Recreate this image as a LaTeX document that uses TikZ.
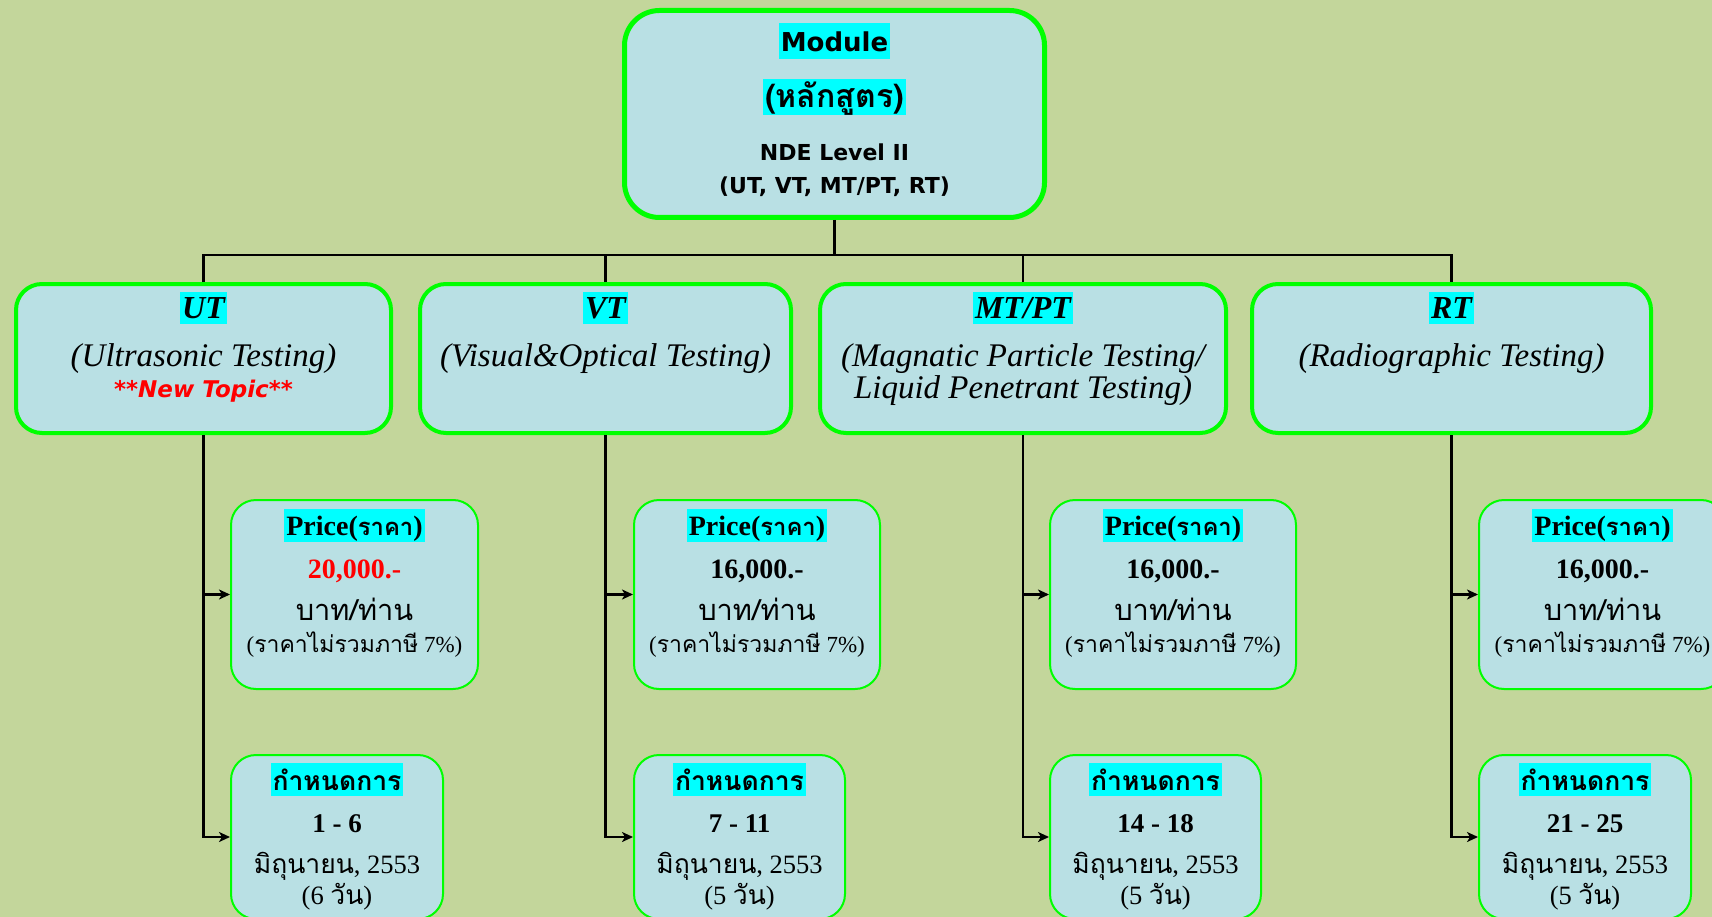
\documentclass[tikz,border=0pt]{standalone}
\usepackage{fontspec}
\setmainfont{Liberation Serif}
\newfontfamily\thai[Script=Thai,Scale=0.85]{Loma}
\newfontfamily\thair[Script=Thai,Scale=1.0]{Loma}
\newfontfamily\thaitop[Script=Thai]{Loma}
\newfontfamily\tah{DejaVu Sans}
\usetikzlibrary{arrows.meta}
\definecolor{bg}{HTML}{C3D69B}
\definecolor{boxfill}{HTML}{B9E0E4}
\definecolor{hl}{HTML}{00FFFF}
\definecolor{grn}{HTML}{00FF00}
\newcommand{\fs}[1]{\fontsize{#1}{#1}\selectfont}
\newcommand{\pricebox}[5]{%
  \node[infobox,minimum width=#3,minimum height=189] (#1) at (#2,594.5) {};
  \node[hlt,text height=26pt,text depth=7pt,font=\fs{28}\bfseries] at (#2,535) {Price({\thai ราคา})};
  \node[lbl,font=\fs{28}\bfseries,text=#5] at (#2,578) {#4};
  \node[lbl,font=\fs{29}] at (#2,620) {\thair บาท/ท่าน};
  \node[lbl,font=\fs{23}] at (#2,652) {({\thair ราคาไม่รวมภาษี} 7\%)};
}
\newcommand{\datebox}[5]{%
  \node[infobox,minimum width=#3,minimum height=164] (#1) at (#2,837) {};
  \node[hlt,text height=27pt,text depth=6pt,font=\fs{26.5}\bfseries] at (#2,790) {\thair กำหนดการ};
  \node[lbl,font=\fs{27}\bfseries] at (#2,832) {#4};
  \node[lbl,font=\fs{26.5}] at (#2,873) {{\thair มิถุนายน}, 2553};
  \node[lbl,font=\fs{26.5}] at (#2,904) {(#5 {\thair วัน})};
}
\begin{document}
\begin{tikzpicture}[x=1pt,y=-1pt,
  bigbox/.style={draw=grn,line width=5pt,fill=boxfill,rounded corners=35pt,inner sep=0pt},
  topicbox/.style={draw=grn,line width=4pt,fill=boxfill,rounded corners=26pt,inner sep=0pt},
  infobox/.style={draw=grn,line width=2pt,fill=boxfill,rounded corners=25pt,inner sep=0pt},
  conn/.style={line width=2.2pt,black},
  arr/.style={conn,-{Stealth[length=11pt,width=10pt,inset=3pt]}},
  lbl/.style={anchor=base,inner sep=0pt},
  hlt/.style={anchor=base,fill=hl,inner xsep=2pt,inner ysep=0pt},
  topic/.style={lbl,font=\fs{33}\itshape},
  topichead/.style={hlt,font=\fs{32}\bfseries\itshape,text height=26pt,text depth=6pt}]
\useasboundingbox (0,0) rectangle (1712,917);
\fill[bg] (0,0) rectangle (1712,917);
\clip (0,0) rectangle (1712,917);

% top box
\node[bigbox,minimum width=420,minimum height=207] (top) at (834.5,114) {};
\node[hlt,text height=29pt,text depth=7pt,font=\tah\fs{26}\bfseries] at (834.5,52) {Module};
\node[hlt,text height=29pt,text depth=7pt,font=\fs{32}\bfseries] at (834.5,108) {\thaitop (หลักสูตร)};
\node[lbl,font=\tah\fs{22}\bfseries] at (834.5,161) {NDE Level II};
\node[lbl,font=\tah\fs{22}\bfseries] at (834.5,194) {(UT, VT, MT/PT, RT)};

% topic boxes
\node[topicbox,minimum width=375,minimum height=149] (ut) at (203.5,358.5) {};
\node[topichead] at (203.5,318) {UT};
\node[topic] at (203.5,366) {(Ultrasonic Testing)};
\node[lbl,font=\tah\fs{23}\bfseries\itshape,text=red] at (203.5,397) {**New Topic**};

\node[topicbox,minimum width=371,minimum height=149] (vt) at (605.5,358.5) {};
\node[topichead] at (605.5,318) {VT};
\node[topic] at (605.5,366) {(Visual\&Optical Testing)};

\node[topicbox,minimum width=406,minimum height=149] (mt) at (1023,358.5) {};
\node[topichead] at (1023,318) {MT/PT};
\node[topic] at (1023,366) {(Magnatic Particle Testing/};
\node[topic] at (1023,398) {Liquid Penetrant Testing)};

\node[topicbox,minimum width=399,minimum height=149] (rt) at (1451.5,358.5) {};
\node[topichead] at (1451.5,318) {RT};
\node[topic] at (1451.5,366) {(Radiographic Testing)};

% info boxes
\pricebox{utp}{354.5}{247}{20,000.-}{red}
\pricebox{vtp}{757}{246}{16,000.-}{black}
\pricebox{mtp}{1173}{246}{16,000.-}{black}
\pricebox{rtp}{1602.5}{247}{16,000.-}{black}
\datebox{utd}{337}{212}{1 - 6}{6}
\datebox{vtd}{739.5}{211}{7 - 11}{5}
\datebox{mtd}{1155.5}{211}{14 - 18}{5}
\datebox{rtd}{1585}{212}{21 - 25}{5}

% connectors
\coordinate (bus) at (834.5,255);
\draw[conn] (top.south) -- (bus);
\draw[conn] (ut.north) |- (bus) -| (rt.north);
\draw[conn] (vt.north) -- (vt.north |- bus);
\draw[conn] (mt.north) -- (mt.north |- bus);
\foreach \a in {ut,vt,mt,rt}{
  \draw[arr] (\a.south) |- (\a p.west);
  \draw[arr] (\a.south) |- (\a d.west);
}
\end{tikzpicture}
\end{document}
